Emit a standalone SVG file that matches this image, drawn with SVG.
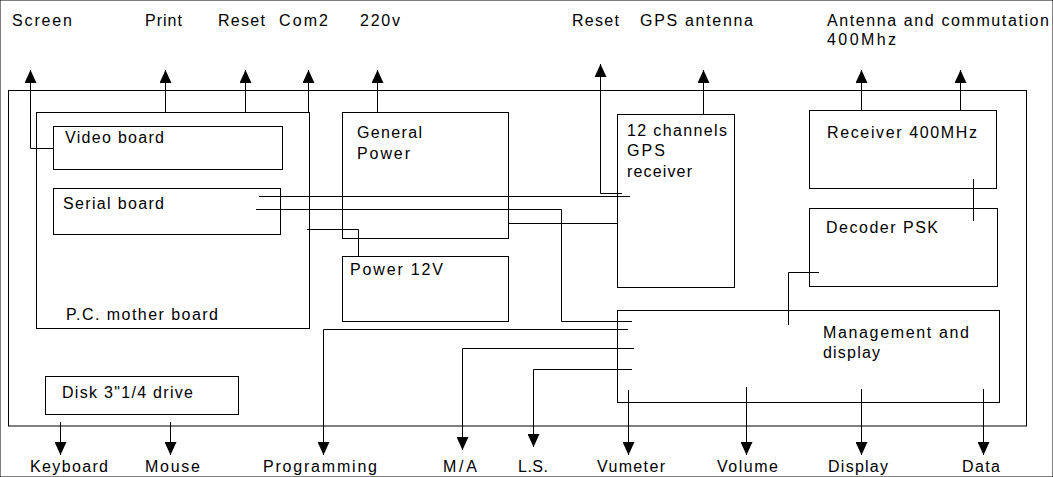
<svg xmlns="http://www.w3.org/2000/svg" width="1053" height="477" viewBox="0 0 1053 477">
<style>
rect{fill:none;stroke:#000;stroke-width:1}
.c{fill:none;stroke:#000;stroke-width:1}
text{font-family:"Liberation Sans",Arial,sans-serif;font-size:16px;fill:#000}
</style>
<defs>
<marker id="ah" markerUnits="userSpaceOnUse" markerWidth="14" markerHeight="12" refX="13" refY="6" orient="auto">
<path d="M0,0 L13,6 L0,12 z" fill="#000"/>
</marker>
</defs>
<rect width="1053" height="477" fill="#fff" stroke="none"/>
<g id="frame"><rect x="8.5" y="90.5" width="1018" height="335.5"/></g>
<g id="motherboard"><rect x="36.5" y="112.5" width="273" height="216"/><text x="66" y="320" textLength="152" lengthAdjust="spacing">P.C. mother board</text></g>
<g id="video"><rect x="53.5" y="126.5" width="229" height="43"/><text x="65" y="143" textLength="99" lengthAdjust="spacing">Video board</text></g>
<g id="serial"><rect x="53.5" y="188.5" width="227" height="46"/><text x="63" y="209" textLength="101" lengthAdjust="spacing">Serial board</text></g>
<g id="genpower"><rect x="342.5" y="112.5" width="166" height="126"/><text x="357" y="138" textLength="65" lengthAdjust="spacing">General</text><text x="357" y="159" textLength="53" lengthAdjust="spacing">Power</text></g>
<g id="power12"><rect x="342.5" y="256.5" width="166" height="65"/><text x="350" y="275" textLength="93" lengthAdjust="spacing">Power 12V</text></g>
<g id="gps"><rect x="617.5" y="114.5" width="117" height="173"/><text x="627" y="136" textLength="100" lengthAdjust="spacing">12 channels</text><text x="627" y="156" textLength="38" lengthAdjust="spacing">GPS</text><text x="627" y="177" textLength="65" lengthAdjust="spacing">receiver</text></g>
<g id="receiver"><rect x="809.5" y="110.5" width="187" height="78"/><text x="827" y="138" textLength="150" lengthAdjust="spacing">Receiver 400MHz</text></g>
<g id="decoder"><rect x="809.5" y="208.5" width="188" height="78"/><text x="826" y="233" textLength="112" lengthAdjust="spacing">Decoder PSK</text></g>
<g id="management"><rect x="617.5" y="310.5" width="382" height="92"/><text x="823" y="338" textLength="146" lengthAdjust="spacing">Management and</text><text x="823" y="358" textLength="57" lengthAdjust="spacing">display</text></g>
<g id="disk"><rect x="45.5" y="376.5" width="193" height="38"/><text x="62" y="398" textLength="131" lengthAdjust="spacing">Disk 3"1/4 drive</text></g>
<g id="connectors">
<path class="c" marker-end="url(#ah)" d="M53,148.5 H30.5 V70"/>
<path class="c" marker-end="url(#ah)" d="M165.5,112 V70"/>
<path class="c" marker-end="url(#ah)" d="M245.5,112 V70"/>
<path class="c" marker-end="url(#ah)" d="M308.5,112 V70"/>
<path class="c" marker-end="url(#ah)" d="M377.5,112 V70"/>
<path class="c" marker-end="url(#ah)" d="M622,193.5 H600.5 V64"/>
<path class="c" marker-end="url(#ah)" d="M703.5,114 V70"/>
<path class="c" marker-end="url(#ah)" d="M861.5,110 V70"/>
<path class="c" marker-end="url(#ah)" d="M960.5,110 V70"/>
<path class="c" d="M259,196.5 H630"/>
<path class="c" d="M256,209.5 H561.5 V321.5 H632"/>
<path class="c" d="M307,229.5 H358.5 V257"/>
<path class="c" d="M509,223.5 H617"/>
<path class="c" d="M973.5,179 V221"/>
<path class="c" d="M819,272.5 H788.5 V325"/>
<path class="c" marker-end="url(#ah)" d="M628,329.5 H323.5 V455"/>
<path class="c" marker-end="url(#ah)" d="M634,348.5 H462.5 V450"/>
<path class="c" marker-end="url(#ah)" d="M632,369.5 H533.5 V447"/>
<path class="c" marker-end="url(#ah)" d="M628.5,390 V455"/>
<path class="c" marker-end="url(#ah)" d="M746.5,387 V455"/>
<path class="c" marker-end="url(#ah)" d="M861.5,389 V455"/>
<path class="c" marker-end="url(#ah)" d="M983.5,389 V455"/>
<path class="c" marker-end="url(#ah)" d="M60.5,422 V455"/>
<path class="c" marker-end="url(#ah)" d="M170.5,422 V455"/>
</g>
<g id="labels">
<text x="12" y="26" textLength="60" lengthAdjust="spacing">Screen</text>
<text x="145" y="26" textLength="37" lengthAdjust="spacing">Print</text>
<text x="218" y="26" textLength="47" lengthAdjust="spacing">Reset</text>
<text x="279" y="26" textLength="49" lengthAdjust="spacing">Com2</text>
<text x="360" y="26" textLength="40" lengthAdjust="spacing">220v</text>
<text x="572" y="26" textLength="47" lengthAdjust="spacing">Reset</text>
<text x="640" y="26" textLength="113" lengthAdjust="spacing">GPS antenna</text>
<text x="827" y="26" textLength="222" lengthAdjust="spacing">Antenna and commutation</text>
<text x="827" y="45" textLength="69" lengthAdjust="spacing">400Mhz</text>
<text x="30" y="472" textLength="78" lengthAdjust="spacing">Keyboard</text>
<text x="145" y="472" textLength="55" lengthAdjust="spacing">Mouse</text>
<text x="263" y="472" textLength="114" lengthAdjust="spacing">Programming</text>
<text x="443" y="472" textLength="34" lengthAdjust="spacing">M/A</text>
<text x="518" y="472" textLength="30" lengthAdjust="spacing">L.S.</text>
<text x="597" y="472" textLength="68" lengthAdjust="spacing">Vumeter</text>
<text x="717" y="472" textLength="61" lengthAdjust="spacing">Volume</text>
<text x="828" y="472" textLength="60" lengthAdjust="spacing">Display</text>
<text x="962" y="472" textLength="38" lengthAdjust="spacing">Data</text>
</g>
</svg>
